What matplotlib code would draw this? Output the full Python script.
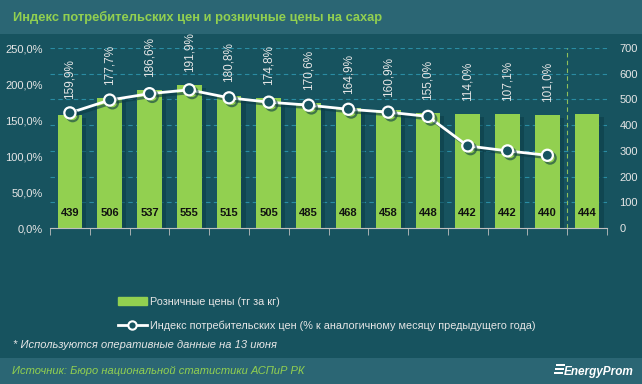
import matplotlib.pyplot as plt
import matplotlib.patheffects as pe
from matplotlib.patches import Rectangle
from matplotlib.lines import Line2D

# data
months = ['2022/05', '2022/06', '2022/07', '2022/08', '2022/09', '2022/10', '2022/11',
          '2022/12', '2023/01', '2023/02', '2023/03', '2023/04', '2023/05', '2023/06*']
prices = [439, 506, 537, 555, 515, 505, 485, 468, 458, 448, 442, 442, 440, 444]
cpi = [159.9, 177.7, 186.6, 191.9, 180.8, 174.8, 170.6, 164.9, 160.9, 155.0, 114.0, 107.1, 101.0]

BG = '#17535f'
HEADER = '#2b6674'
GREEN = '#92d050'
TXT = '#e6e6e6'
GRID = '#2a8ca3'

plt.rcParams['font.family'] = ['Liberation Sans', 'DejaVu Sans']

fig = plt.figure(figsize=(6.42, 3.84), dpi=100)
fig.patch.set_facecolor(BG)

# header and footer bands
fig.patches.append(Rectangle((0, 1 - 34 / 384), 1, 34 / 384, transform=fig.transFigure,
                             facecolor=HEADER, edgecolor='none', zorder=0))
fig.patches.append(Rectangle((0, 0), 1, 26 / 384, transform=fig.transFigure,
                             facecolor=HEADER, edgecolor='none', zorder=0))

ax = fig.add_axes([50 / 642, 1 - 228 / 384, 557 / 642, 180 / 384])
ax.set_facecolor('none')
ax2 = ax.twinx()
ax2.set_facecolor('none')

x = list(range(len(months)))

# bars on the price scale (right axis)
ax.bar(x, prices, width=0.62, color=GREEN, zorder=2,
       path_effects=[pe.SimplePatchShadow(offset=(3, -2), shadow_rgbFace='#0b3a44', alpha=0.5),
                     pe.Normal()])
ax.set_ylim(0, 700)
ax.set_xlim(-0.5, len(months) - 0.5)
ax.set_yticks(range(0, 701, 100))
ax.yaxis.tick_right()
ax.grid(axis='y', color=GRID, linestyle=(0, (4, 3)), linewidth=0.8, zorder=0)
ax.set_axisbelow(True)
for i, v in enumerate(prices):
    ax.annotate(str(v), (i, 0), xytext=(0, 11), textcoords='offset points',
                ha='center', va='center', fontsize=8, fontweight='bold', color='#111111')

ax.axvline(12.5, color='#8fbf5a', linestyle=(0, (4, 3)), linewidth=0.8, zorder=1)

# line on the percent scale (left axis)
ax2.plot(x[:len(cpi)], cpi, color='white', linewidth=2, marker='o', markersize=8,
         markerfacecolor=BG, markeredgecolor='white', markeredgewidth=1.6, zorder=3,
         path_effects=[pe.SimpleLineShadow(offset=(2, -2), shadow_color='#0b3a44', alpha=0.6),
                       pe.Normal()])
ax2.set_ylim(0, 250)
ax2.set_yticks(range(0, 251, 50))
ax2.yaxis.tick_left()
for i, v in enumerate(cpi):
    top = max(v, prices[i] / 700 * 250)
    ax2.annotate(f'{v:.1f}%'.replace('.', ','), (i, top), xytext=(0, 24),
                 textcoords='offset points', ha='center', va='center', rotation=90,
                 fontsize=8.5, color=TXT)

ax.set_yticklabels([str(t) for t in range(0, 701, 100)])
ax2.set_yticklabels([f'{t},0%' for t in range(0, 251, 50)])

for a in (ax, ax2):
    for s in a.spines.values():
        s.set_visible(False)
    a.tick_params(axis='y', length=0, labelsize=8, labelcolor=TXT, pad=5)
ax.tick_params(axis='y', pad=9)
ax.spines['bottom'].set_visible(True)
ax.spines['bottom'].set_color('#bfbfbf')

ax.set_xticks(x)
ax.set_xticklabels(months, rotation=45, ha='right', rotation_mode='anchor',
                   fontsize=8, color=TXT)
ax.tick_params(axis='x', which='major', length=0, pad=6)
ax.set_xticks([i + 0.5 for i in range(-1, len(months))], minor=True)
ax.tick_params(axis='x', which='minor', length=5, color='#bfbfbf')
ax2.set_xticks([])

# legend
handles = [Rectangle((0, 0), 1, 1, color=GREEN),
           Line2D([], [], color='white', linewidth=2, marker='o', markersize=6,
                  markerfacecolor=BG, markeredgecolor='white', markeredgewidth=1.5)]
fig.legend(handles, ['Розничные цены (тг за кг)',
                     'Индекс потребительских цен (% к аналогичному месяцу предыдущего года)'],
           loc='upper left', bbox_to_anchor=(108 / 642, 1 - 287 / 384), frameon=False,
           fontsize=7.8, labelcolor=TXT, handlelength=2.7, handletextpad=0.3,
           labelspacing=1.25)

fig.text(13 / 642, 1 - 17 / 384, 'Индекс потребительских цен и розничные цены на сахар',
         color=GREEN, fontsize=9.3, fontweight='bold', va='center', ha='left')
fig.text(13 / 642, 1 - 345 / 384, '* Используются оперативные данные на 13 июня',
         color=TXT, fontsize=8, style='italic', va='center')
fig.text(12 / 642, 1 - 371 / 384, 'Источник: Бюро национальной статистики АСПиР РК',
         color=GREEN, fontsize=8, style='italic', va='center')
fig.text(634 / 642, 1 - 372 / 384, 'EnergyProm', color='white', fontsize=8.5,
         fontweight='bold', style='italic', va='center', ha='right')
for k in range(3):
    fig.patches.append(Rectangle(((556 - k) / 642, 1 - (366 + k * 4) / 384), 9 / 642, 2.5 / 384,
                                 transform=fig.transFigure, facecolor='white',
                                 edgecolor='none'))

fig.savefig('out.png', dpi=100, facecolor=fig.get_facecolor())
